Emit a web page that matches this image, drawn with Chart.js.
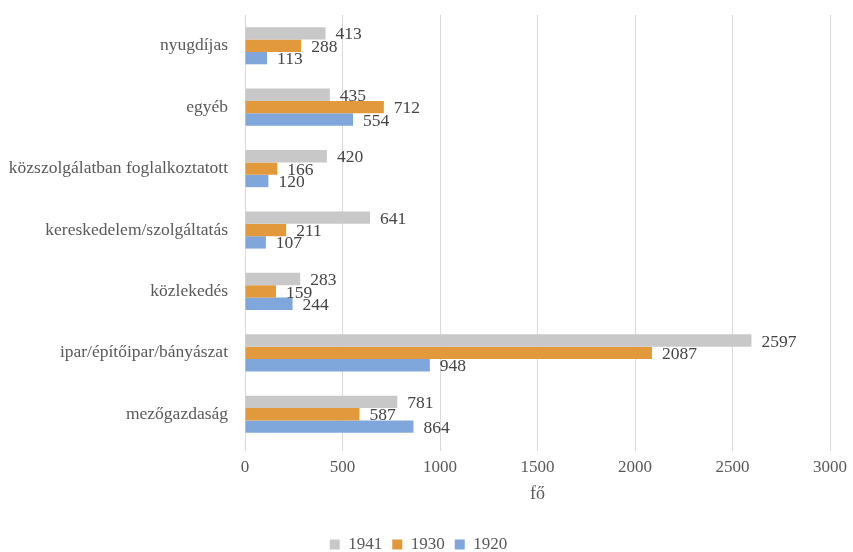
<!DOCTYPE html>
<html>
<head>
<meta charset="utf-8">
<script src="https://cdn.jsdelivr.net/npm/chart.js@4.4.1/dist/chart.umd.min.js"></script>
<style>
  html, body { margin: 0; padding: 0; background: #fff; }
  #wrap { width: 853px; height: 552px; }
</style>
</head>
<body>
<div id="wrap"><canvas id="chart1"></canvas></div>
<script>
// kategóriák felülről lefelé
var kategoriak = [
  "nyugdíjas",
  "egyéb",
  "közszolgálatban foglalkoztatott",
  "kereskedelem/szolgáltatás",
  "közlekedés",
  "ipar/építőipar/bányászat",
  "mezőgazdaság"
];
var ev1941 = [413, 435, 420, 641, 283, 2597, 781];
var ev1930 = [288, 712, 166, 211, 159, 2087, 587];
var ev1920 = [113, 554, 120, 107, 244, 948, 864];
var tengelyCim = "fő";

var betu = "'Liberation Serif', 'Times New Roman', serif";

// értékek kiírása a sávok végére
var cimkek = {
  id: "cimkek",
  afterDatasetsDraw: function (chart) {
    var ctx = chart.ctx;
    ctx.save();
    ctx.font = "17.5px " + betu;
    ctx.fillStyle = "#444444";
    ctx.textBaseline = "middle";
    ctx.textAlign = "left";
    chart.data.datasets.forEach(function (ds, i) {
      var meta = chart.getDatasetMeta(i);
      meta.data.forEach(function (bar, j) {
        ctx.fillText(String(ds.data[j]), bar.x + 10, bar.y + 1.5);
      });
    });
    ctx.restore();
  }
};

var chart1 = document.getElementById("chart1");
new Chart(chart1, {
  type: "bar",
  data: {
    labels: kategoriak,
    datasets: [
      { label: "1941", data: ev1941, backgroundColor: "#c8c8c8" },
      { label: "1930", data: ev1930, backgroundColor: "#e2993c" },
      { label: "1920", data: ev1920, backgroundColor: "#7fa7dc" }
    ]
  },
  options: {
    indexAxis: "y",
    responsive: true,
    maintainAspectRatio: false,
    animation: false,
    layout: { padding: { left: 0, right: 16, top: 15, bottom: -11 } },
    datasets: { bar: { categoryPercentage: 0.605, barPercentage: 1.0 } },
    scales: {
      x: {
        min: 0,
        max: 3000,
        ticks: {
          stepSize: 500, color: "#595959", font: { family: betu, size: 17 }, padding: 6,
          callback: function (v) { return String(v); }
        },
        grid: { color: "#d9d9d9", drawTicks: true, tickLength: 6 },
        border: { display: false },
        title: { display: true, text: tengelyCim, color: "#595959", font: { family: betu, size: 18 }, padding: { top: 0, bottom: 21 } }
      },
      y: {
        ticks: { color: "#595959", font: { family: betu, size: 17.5 }, padding: 9 },
        grid: { display: false },
        border: { display: true, color: "#d9d9d9" },
        afterFit: function (s) {
          s.width = 245;
          s.paddingTop = 0;
          s.paddingBottom = 0;
        }
      }
    },
    plugins: {
      legend: {
        position: "bottom",
        labels: { boxWidth: 10, boxHeight: 10, color: "#595959", font: { family: betu, size: 17 }, padding: 10 }
      },
      tooltip: { enabled: false }
    }
  },
  plugins: [cimkek]
});
</script>
</body>
</html>
